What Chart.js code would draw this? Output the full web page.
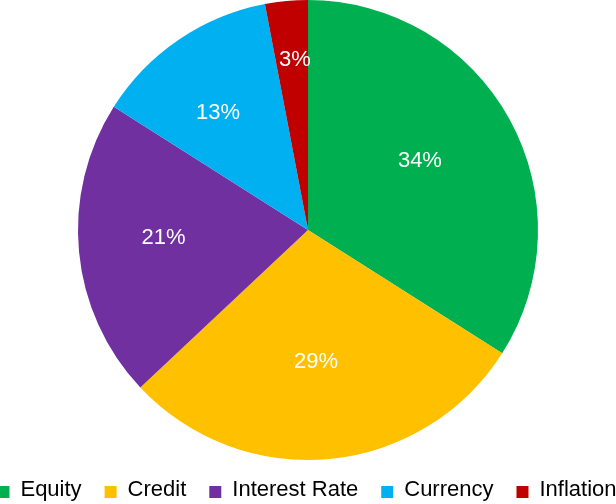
<!DOCTYPE html>
<html>
<head>
<meta charset="utf-8">
<script src="https://cdn.jsdelivr.net/npm/chart.js@4"></script>
<style>
  html, body { margin: 0; padding: 0; background: #fff; }
  #wrap { width: 616px; height: 504px; }
</style>
</head>
<body>
<div id="wrap"><canvas id="riskChart"></canvas></div>
<script>
const categories = ['Equity', 'Credit', 'Interest Rate', 'Currency', 'Inflation'];
const shares = [34, 29, 21, 13, 3];
const sliceColors = ['#00b050', '#ffc000', '#7030a0', '#00b0f0', '#c00000'];

const FONT = "'Liberation Sans', Arial, Helvetica, sans-serif";

// percentage text inside each slice (Excel "best fit" style placement)
const sliceLabels = {
    id: 'sliceLabels',
    afterDatasetsDraw(chart, args, opts) {
        const ctx = chart.ctx;
        const meta = chart.getDatasetMeta(0);
        ctx.save();
        ctx.font = '22px ' + FONT;
        ctx.fillStyle = '#fff';
        ctx.textAlign = 'center';
        ctx.textBaseline = 'middle';
        meta.data.forEach((arc, i) => {
            const p = arc.getProps(['x', 'y', 'startAngle', 'endAngle', 'outerRadius']);
            const mid = (p.startAngle + p.endAngle) / 2 + opts.shift[i] * Math.PI / 180;
            const r = p.outerRadius * opts.radius[i];
            ctx.fillText(shares[i] + '%', p.x + Math.cos(mid) * r, p.y + Math.sin(mid) * r + 1);
        });
        ctx.restore();
    }
};

// one-row legend along the bottom, spaced like the original
const bottomLegend = {
    id: 'bottomLegend',
    afterDraw(chart, args, opts) {
        const ctx = chart.ctx;
        ctx.save();
        ctx.font = opts.fontSize + 'px ' + FONT;
        ctx.textBaseline = 'middle';
        const widths = categories.map(c => opts.box + opts.boxGap + ctx.measureText(c).width);
        const total = widths.reduce((a, b) => a + b, 0) + opts.gap * (categories.length - 1);
        let x = opts.centerX - total / 2;
        categories.forEach((c, i) => {
            ctx.fillStyle = sliceColors[i];
            ctx.fillRect(x, opts.y - opts.box / 2, opts.box, opts.box);
            ctx.fillStyle = '#000';
            ctx.fillText(c, x + opts.box + opts.boxGap, opts.y - 2);
            x += widths[i] + opts.gap;
        });
        ctx.restore();
    }
};

new Chart(document.getElementById('riskChart'), {
    type: 'pie',
    data: {
        labels: categories,
        datasets: [{
            data: shares,
            backgroundColor: sliceColors,
            borderWidth: 0
        }]
    },
    options: {
        responsive: true,
        maintainAspectRatio: false,
        animation: false,
        layout: {
            padding: { bottom: 44 }
        },
        plugins: {
            legend: { display: false },
            tooltip: { enabled: false },
            sliceLabels: {
                radius: [0.575, 0.571, 0.629, 0.647, 0.746],
                shift: [-3.4, 1.9, 2.8, -3.0, 1.0]
            },
            bottomLegend: { fontSize: 22, box: 12, boxGap: 11, gap: 23, centerX: 307, y: 492 }
        }
    },
    plugins: [sliceLabels, bottomLegend]
});
</script>
</body>
</html>
